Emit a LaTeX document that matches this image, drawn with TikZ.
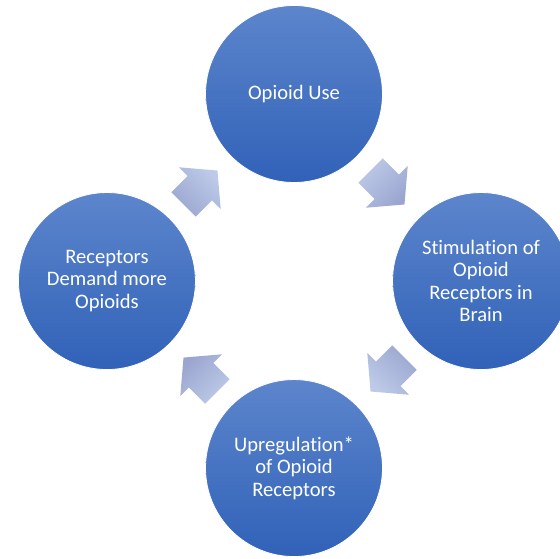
\documentclass[tikz,border=0pt]{standalone}
\usepackage{fontspec}
\setmainfont{Carlito}[Ligatures={NoCommon}]
\usetikzlibrary{calc,positioning}

\definecolor{circletop}{RGB}{92,133,204}
\definecolor{circlebottom}{RGB}{49,98,184}
\definecolor{arrowtop}{RGB}{190,202,232}
\definecolor{arrowbottom}{RGB}{154,166,207}

\begin{document}
\begin{tikzpicture}[x=1pt, y=1pt, node distance=264.5pt,
	main node/.style={circle,draw=white,line width=0.8pt,top color=circletop,bottom color=circlebottom,
		minimum size=177pt,inner sep=0pt,text=white,align=center,font=\fontsize{20.6}{22.5}\selectfont},
	cycle arrow/.pic={
		\shade[top color=arrowtop,bottom color=arrowbottom,shading angle=#1]
		(-24,-17.3) -- (-1,-17.3) -- (-1,-29.6) -- (24,0) -- (-1,29.6) -- (-1,17.3) -- (-24,17.3) -- cycle;
	}]
	\useasboundingbox (0,0) rectangle (560,559);
	
	\node[main node] (1) at (294,465) {Opioid Use};
	\node[main node] (2) [below right of=1] {Stimulation of\\Opioid\\Receptors in\\Brain};
	\node[main node] (3) [below left of=2] {Upregulation*\\of Opioid\\Receptors};
	\node[main node] (4) [above left of=3] {Receptors\\Demand more\\Opioids};
	
	% block arrows half way between the circles
	\pic[rotate=-45] at ($(1)!0.5!(2)$) {cycle arrow=45};
	\pic[rotate=-135] at ($(2)!0.5!(3)$) {cycle arrow=135};
	\pic[rotate=135] at ($(3)!0.5!(4)$) {cycle arrow=-135};
	\pic[rotate=45] at ($(4)!0.5!(1)$) {cycle arrow=-45};
\end{tikzpicture}
\end{document}
